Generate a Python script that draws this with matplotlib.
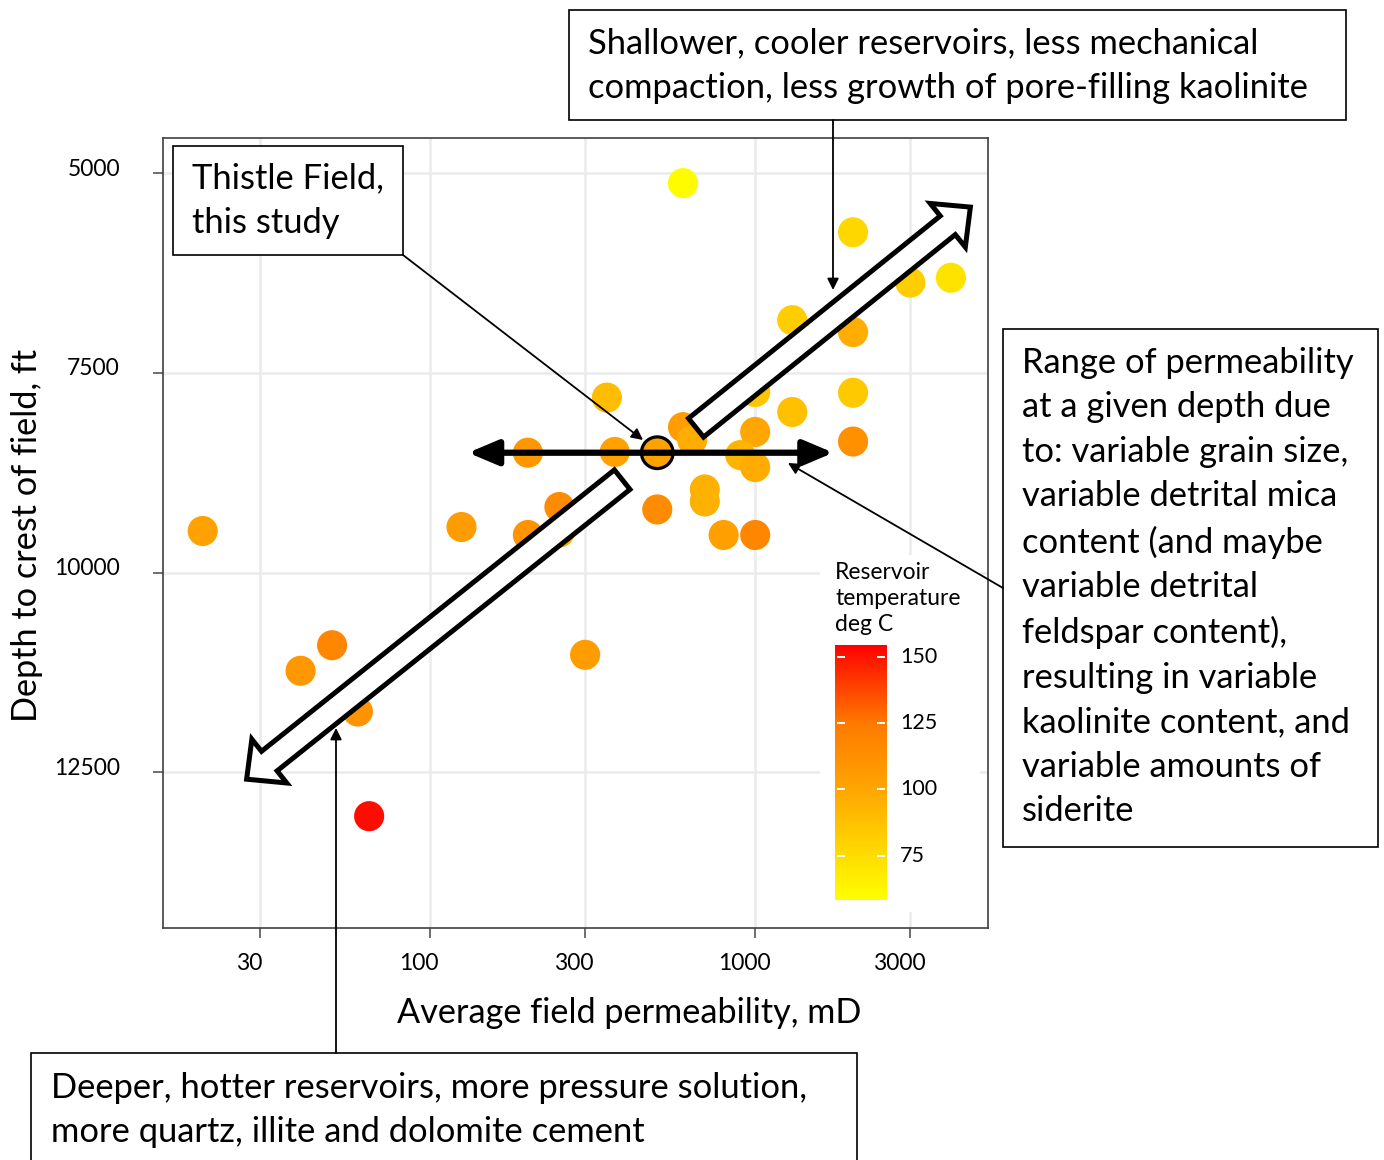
import numpy as np
import matplotlib
matplotlib.use("Agg")
import matplotlib.pyplot as plt
from matplotlib.colors import LinearSegmentedColormap, Normalize
from matplotlib.patches import Rectangle, FancyArrow, FancyArrowPatch
from matplotlib.transforms import ScaledTranslation, blended_transform_factory

plt.rcParams['font.family'] = ['Lato', 'DejaVu Sans']

# field data: permeability (mD), crest depth (ft), reservoir temperature (deg C)
perm = [600, 2000, 3000, 4000, 1300, 2000, 350, 1000, 2000, 1300,
        600, 640, 1000, 900, 1000, 2000, 200, 370, 500, 700,
        700, 250, 500, 20, 125, 200, 250, 800, 1000, 50,
        40, 300, 60, 65]
depth = [5125, 5740, 6370, 6310, 6840, 6990, 7810, 7740, 7750, 7990,
         8180, 8340, 8240, 8530, 8680, 8360, 8500, 8490, 8500, 8960,
         9110, 9180, 9210, 9480, 9430, 9530, 9500, 9530, 9530, 10910,
         11230, 11030, 11740, 13050]
temp = [60, 78, 82, 72, 82, 97, 90, 86, 84, 88,
        105, 97, 100, 93, 98, 112, 108, 102, 102, 95,
        95, 115, 115, 103, 106, 110, 98, 104, 118, 118,
        108, 106, 110, 152]

thistle = (500, 8500)

x_ticks = [30, 100, 300, 1000, 3000]
y_ticks = [5000, 7500, 10000, 12500]
cb_ticks = [75, 100, 125, 150]
t_min, t_max = 58.3, 154.5

W, H = 1384, 1160
fig = plt.figure(figsize=(W / 100, H / 100), dpi=100)

BOX_FS = 24.8
BOX_LS = 1.48


def px(x, y):
    return (x / W, 1 - y / H)


cmap = LinearSegmentedColormap.from_list(
    "temp",
    [(0.0, "#FFFF00"), ((75 - t_min) / (t_max - t_min), "#FFDD00"),
     ((100 - t_min) / (t_max - t_min), "#FFA600"),
     ((125 - t_min) / (t_max - t_min), "#FF7A00"),
     ((150 - t_min) / (t_max - t_min), "#FF1500"), (1.0, "#FF0000")])
norm = Normalize(t_min, t_max)

ax = fig.add_axes([163 / W, 1 - 928 / H, 825 / W, 790 / H])
ax.set_xscale("log")
ax.set_xlim(15.1, 5200)
ax.set_ylim(14450, 4560)
ax.set_axisbelow(True)
ax.grid(True, color="#EBEBEB", lw=1.8)
ax.xaxis.set_minor_locator(plt.NullLocator())
ax.set_xticks(x_ticks)
ax.set_xticklabels([str(v) for v in x_ticks])
ax.set_yticks(y_ticks)
ax.set_yticklabels([str(v) for v in y_ticks])
ax.tick_params(axis="both", length=7, width=1.2, color="#555555",
               labelsize=16.5, labelcolor="black")
ax.tick_params(axis="x", pad=11)
ax.tick_params(axis="y", pad=24)
for lab in ax.get_xticklabels():
    lab.set_transform(lab.get_transform() + ScaledTranslation(-0.11, 0, fig.dpi_scale_trans))
for lab in ax.get_yticklabels():
    lab.set_transform(lab.get_transform() + ScaledTranslation(0, 0.06, fig.dpi_scale_trans))
for sp in ax.spines.values():
    sp.set_color("#404040")
    sp.set_linewidth(1.2)

# white panel behind the temperature legend
ax.add_patch(Rectangle(px(820, 912), 160 / W, 357 / H, transform=fig.transFigure,
                       facecolor="white", edgecolor="none", zorder=1, clip_on=False))

ax.scatter(perm, depth, c=temp, cmap=cmap, norm=norm, s=470, edgecolors="none", zorder=2)
ax.scatter([thistle[0]], [thistle[1]], s=520, facecolors="none",
           edgecolors="black", linewidths=2.3, zorder=6)

# range of permeability at the Thistle depth
ax.annotate("", xy=(1740, thistle[1]), xytext=(131, thistle[1]),
            arrowprops=dict(arrowstyle="<|-|>,head_length=0.9,head_width=0.38",
                            mutation_scale=20, lw=4.5, color="black",
                            shrinkA=0, shrinkB=0), zorder=5)

fig.canvas.draw()
to_in = ax.transData + fig.dpi_scale_trans.inverted()


def block_arrow(tail, tip, width):
    (x0, y0), (x1, y1) = to_in.transform([tail, tip])
    arr = FancyArrow(x0, y0, x1 - x0, y1 - y0, width=width, head_width=0.56,
                     head_length=0.29, length_includes_head=True,
                     transform=fig.dpi_scale_trans, facecolor="white",
                     edgecolor="black", lw=3.6, zorder=3, joinstyle="miter")
    fig.add_artist(arr)


block_arrow((658, 8187), (4590, 5425), 0.24)
block_arrow((390, 8837), (27.3, 12587), 0.25)

# temperature legend
ax_cb = fig.add_axes([835 / W, 1 - 900 / H, 52 / W, 255 / H])
grad = np.linspace(t_min, t_max, 256).reshape(-1, 1)
ax_cb.imshow(grad, cmap=cmap, norm=norm, origin="lower", aspect="auto",
             extent=[0, 1, t_min, t_max])
ax_cb.set_xlim(0, 1)
ax_cb.set_ylim(t_min, t_max)
ax_cb.axis("off")
ax_cb.hlines(cb_ticks, 0.03, 0.2, colors="white", lw=1.4)
ax_cb.hlines(cb_ticks, 0.8, 0.97, colors="white", lw=1.4)
tr = blended_transform_factory(ax_cb.transAxes, ax_cb.transData)
for v in cb_ticks:
    ax_cb.text(1.25, v, str(v), transform=tr, ha="left", va="center", fontsize=15.5)
fig.text(*px(835, 562), "Reservoir\ntemperature\ndeg C", ha="left", va="top",
         fontsize=16.5, linespacing=1.3)

# axis titles
fig.text(*px(629, 1013), "Average field permeability, mD", ha="center", va="center", fontsize=24.7)
fig.text(*px(27, 535), "Depth to crest of field, ft", ha="center", va="center",
         rotation=90, fontsize=24.7)


def box(x0, y0, x1, y1):
    fig.add_artist(Rectangle(px(x0, y1), (x1 - x0) / W, (y1 - y0) / H,
                             transform=fig.transFigure, facecolor="white",
                             edgecolor="black", lw=1.2, zorder=7, clip_on=False))


def pointer(start, end):
    fig.add_artist(FancyArrowPatch(px(*start), px(*end), transform=fig.transFigure,
                                   arrowstyle="-|>", mutation_scale=17, lw=1.3,
                                   color="black", shrinkA=0, shrinkB=0, zorder=7))


box(569, 10, 1346, 120)
fig.text(*px(588, 66), "Shallower, cooler reservoirs, less mechanical\n"
         "compaction, less growth of pore-filling kaolinite",
         ha="left", va="center", fontsize=BOX_FS, linespacing=BOX_LS, zorder=8)
pointer((833, 120), (833, 290))

box(173, 146, 403, 255)
fig.text(*px(192, 201), "Thistle Field,\nthis study", ha="left", va="center",
         fontsize=BOX_FS, linespacing=BOX_LS, zorder=8)
pointer((403, 255), (643, 440))

box(1003, 329, 1378, 847)
fig.text(*px(1022, 587), "Range of permeability\nat a given depth due\n"
         "to: variable grain size,\nvariable detrital mica\ncontent (and maybe\n"
         "variable detrital\nfeldspar content),\nresulting in variable\n"
         "kaolinite content, and\nvariable amounts of\nsiderite",
         ha="left", va="center", fontsize=BOX_FS, linespacing=BOX_LS, zorder=8)
pointer((1003, 588), (788, 463))

box(31, 1053, 857, 1175)
fig.text(*px(51, 1110), "Deeper, hotter reservoirs, more pressure solution,\n"
         "more quartz, illite and dolomite cement",
         ha="left", va="center", fontsize=BOX_FS, linespacing=BOX_LS, zorder=8)
pointer((336, 1053), (336, 728))

fig.savefig("out.png", dpi=100)
